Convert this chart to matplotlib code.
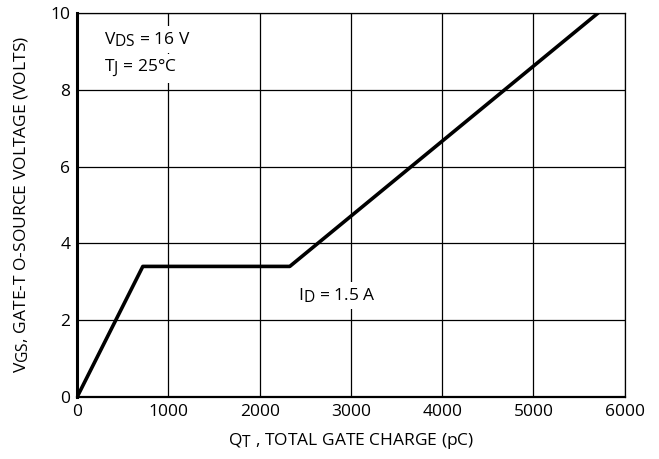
import matplotlib
matplotlib.use("Agg")
import matplotlib.pyplot as plt
import matplotlib._mathtext as mt

# gate charge curve (pC, V)
qt = [0, 720, 2330, 5710]
vgs = [0, 3.4, 3.4, 10]

x_ticks = [0, 1000, 2000, 3000, 4000, 5000, 6000]
y_ticks = [0, 2, 4, 6, 8, 10]

# subscripts in the datasheet are nearly full size
mt.SHRINK_FACTOR = 0.9

plt.rcParams["font.family"] = ["Open Sans", "DejaVu Sans"]
plt.rcParams["mathtext.fontset"] = "custom"
plt.rcParams["mathtext.rm"] = "Open Sans"
plt.rcParams["mathtext.it"] = "Open Sans"
plt.rcParams["mathtext.default"] = "regular"

fs = 12.5

fig = plt.figure(figsize=(6.59, 4.59), dpi=100)
ax = fig.add_axes([0.117, 0.135, 0.831, 0.837])

ax.plot(qt, vgs, color="black", linewidth=2.6, solid_capstyle="round", zorder=3)

ax.set_xlim(0, 6000)
ax.set_ylim(0, 10)
ax.set_xticks(x_ticks)
ax.set_yticks(y_ticks)
ax.grid(True, color="black", linewidth=0.9)
ax.tick_params(length=0, labelsize=fs, pad=5)

for side in ["top", "right"]:
    ax.spines[side].set_linewidth(0.9)
ax.spines["left"].set_linewidth(2.2)
ax.spines["bottom"].set_linewidth(1.6)

box = dict(facecolor="white", edgecolor="none", pad=3)
ax.text(290, 9.3, "V$_{DS}$ = 16 V", fontsize=fs, va="center", bbox=box, zorder=2)
ax.text(290, 8.55, "T$_{J}$ = 25°C", fontsize=fs, va="center", bbox=box, zorder=2)
ax.text(2420, 2.65, "I$_{D}$ = 1.5 A", fontsize=fs, va="center", bbox=box, zorder=2)

ax.set_xlabel("Q$_{T}$ , TOTAL GATE CHARGE (pC)", fontsize=fs, labelpad=8)
ax.set_ylabel("V$_{GS}$, GATE-T O-SOURCE VOLTAGE (VOLTS)", fontsize=fs, labelpad=14)

fig.savefig("out.png", dpi=100)
